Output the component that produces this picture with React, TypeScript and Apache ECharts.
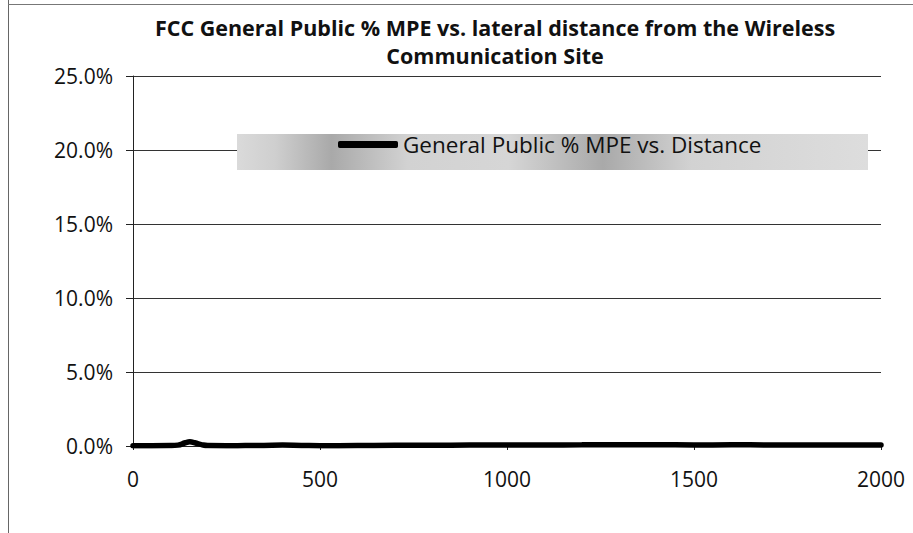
import React, { useEffect, useRef } from "react";
import * as echarts from "echarts";

const titleText = "FCC General Public % MPE vs. lateral distance from the Wireless\nCommunication Site";
const seriesName = "General Public % MPE vs. Distance";
const distances = [0, 50, 100, 120, 140, 152, 165, 185, 200, 250, 300, 350, 400, 450, 500, 600, 700, 800, 900, 1000, 1100, 1200, 1300, 1400, 1500, 1600, 1700, 1800, 1900, 2000];
const mpePercent = [0.02, 0.02, 0.03, 0.06, 0.22, 0.28, 0.22, 0.08, 0.03, 0.02, 0.03, 0.04, 0.06, 0.04, 0.02, 0.03, 0.05, 0.05, 0.06, 0.06, 0.07, 0.08, 0.09, 0.09, 0.07, 0.08, 0.07, 0.06, 0.06, 0.06];
const yTicks = [0, 5, 10, 15, 20, 25];
const xTicks = [0, 500, 1000, 1500, 2000];

export default function App() {
  const ref = useRef<HTMLDivElement>(null);
  useEffect(() => {
    if (!ref.current) return;
    const chart = echarts.init(ref.current, undefined, { renderer: "svg" });
    const font = "'Open Sans', sans-serif";
    chart.setOption({
      animation: false,
      backgroundColor: "#ffffff",
      title: {
        text: titleText,
        left: 490,
        textAlign: "center",
        top: 8,
        textStyle: { fontFamily: font, fontSize: 21.5, fontWeight: "bold", color: "#111", lineHeight: 28 },
      },
      graphic: [
        { type: "line", z: 0, shape: { x1: 8.5, y1: 0, x2: 8.5, y2: 533 }, style: { stroke: "#666", lineWidth: 1 } },
        { type: "line", z: 0, shape: { x1: 8, y1: 4.5, x2: 913, y2: 4.5 }, style: { stroke: "#777", lineWidth: 1 } },
        {
          type: "rect",
          z: 1,
          shape: { x: 237, y: 134, width: 631, height: 36 },
          style: {
            fill: {
              type: "linear", x: 0, y: 0, x2: 1, y2: 0,
              colorStops: [
                { offset: 0, color: "#dadada" },
                { offset: 0.06, color: "#cfcfcf" },
                { offset: 0.15, color: "#a9a9a9" },
                { offset: 0.27, color: "#d2d2d2" },
                { offset: 0.43, color: "#d6d6d6" },
                { offset: 0.58, color: "#a9a9a9" },
                { offset: 0.72, color: "#d2d2d2" },
                { offset: 1, color: "#dddddd" },
              ],
            },
          },
        },
      ],
      legend: {
        data: [seriesName],
        left: 338,
        top: 133,
        padding: 0,
        z: 5,
        icon: "roundRect",
        itemWidth: 60,
        itemHeight: 7,
        itemStyle: { color: "#000" },
        textStyle: { fontFamily: font, fontSize: 22.5, color: "#111", lineHeight: 22 },
      },
      grid: { left: 133, right: 32, top: 76, bottom: 87, containLabel: false },
      xAxis: {
        type: "value",
        min: 0,
        max: 2000,
        interval: 500,
        axisLine: { show: true, lineStyle: { color: "#222", width: 1 } },
        axisTick: { show: true, length: 4, lineStyle: { color: "#222" } },
        axisLabel: {
          margin: 22,
          fontFamily: font,
          fontSize: 21,
          color: "#111",
          formatter: (v: number) => (xTicks.includes(v) ? String(v) : ""),
        },
        splitLine: { show: false },
      },
      yAxis: {
        type: "value",
        min: 0,
        max: 25,
        interval: 5,
        axisLine: { show: true, lineStyle: { color: "#222", width: 1 } },
        axisTick: { show: true, length: 7, lineStyle: { color: "#222" } },
        axisLabel: {
          margin: 20,
          fontFamily: font,
          fontSize: 21,
          color: "#111",
          formatter: (v: number) => (yTicks.includes(v) ? v.toFixed(1) + "%" : ""),
        },
        splitLine: { show: true, lineStyle: { color: "#333", width: 1 } },
      },
      series: [
        {
          name: seriesName,
          type: "line",
          smooth: true,
          showSymbol: false,
          data: distances.map((d, i) => [d, mpePercent[i]]),
          lineStyle: { color: "#000", width: 5.5, cap: "round" },
          itemStyle: { color: "#000" },
        },
      ],
    });
    return () => chart.dispose();
  }, []);
  return <div ref={ref} style={{ width: 913, height: 533, position: "absolute", left: 0, top: 0 }} />;
}
